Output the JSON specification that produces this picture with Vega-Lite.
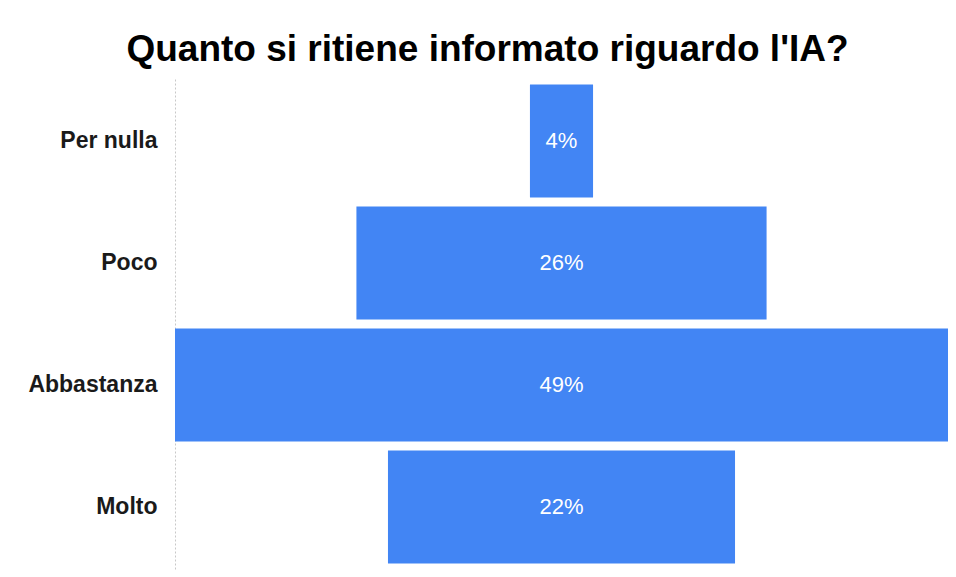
{
  "$schema": "https://vega.github.io/schema/vega-lite/v6.json",
  "width": 773,
  "height": 490,
  "autosize": {"type": "none"},
  "padding": {"left": 175, "top": 79, "right": 8, "bottom": 8},
  "background": "white",
  "title": {
    "text": "Quanto si ritiene informato riguardo l'IA?",
    "font": "Liberation Sans",
    "fontSize": 37,
    "fontWeight": "bold",
    "color": "#000000",
    "anchor": "middle",
    "frame": "group",
    "baseline": "alphabetic",
    "offset": -19,
    "dx": -74
  },
  "data": {
    "values": [
      {"risposta": "Per nulla", "quota": 0.04},
      {"risposta": "Poco", "quota": 0.26},
      {"risposta": "Abbastanza", "quota": 0.49},
      {"risposta": "Molto", "quota": 0.22}
    ]
  },
  "encoding": {
    "y": {
      "field": "risposta",
      "type": "nominal",
      "sort": null,
      "scale": {"paddingInner": 0.075, "paddingOuter": 0.045},
      "axis": {
        "title": null,
        "ticks": false,
        "labelFont": "Liberation Sans",
        "labelFontSize": 23,
        "labelFontWeight": "bold",
        "labelColor": "#1a1a1a",
        "labelPadding": 18,
        "domainColor": "#c8c8c8",
        "domainDash": [2, 2],
        "domainWidth": 1
      }
    }
  },
  "layer": [
    {
      "mark": {"type": "bar", "color": "#4285F4"},
      "encoding": {
        "x": {
          "field": "quota",
          "type": "quantitative",
          "stack": "center",
          "scale": {"domain": [0, 0.49], "nice": false, "zero": false},
          "axis": null
        }
      }
    },
    {
      "mark": {"type": "text", "color": "white", "font": "Liberation Sans", "fontSize": 22},
      "encoding": {
        "x": {"datum": 0.245, "type": "quantitative"},
        "text": {"field": "quota", "type": "quantitative", "format": ".0%"}
      }
    }
  ],
  "config": {"view": {"stroke": null}}
}
